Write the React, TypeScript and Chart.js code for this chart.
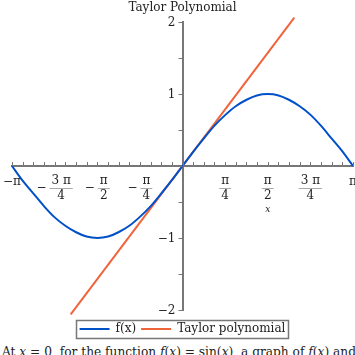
import React, { useEffect, useRef } from "react";
import { Chart, registerables } from "chart.js";
Chart.register(...registerables);

// f(x) = sin(x), read at steps of pi/16
const sineX = [-3.1416, -2.95, -2.75, -2.55, -2.36, -2.16, -1.96, -1.77, -1.57, -1.37, -1.18, -0.98, -0.79, -0.59, -0.39, -0.2, 0, 0.2, 0.39, 0.59, 0.79, 0.98, 1.18, 1.37, 1.57, 1.77, 1.96, 2.16, 2.36, 2.55, 2.75, 2.95, 3.1416];
const sineY = [0, -0.2, -0.38, -0.56, -0.71, -0.83, -0.92, -0.98, -1, -0.98, -0.92, -0.83, -0.71, -0.56, -0.38, -0.2, 0, 0.2, 0.38, 0.56, 0.71, 0.83, 0.92, 0.98, 1, 0.98, 0.92, 0.83, 0.71, 0.56, 0.38, 0.2, 0];
// Taylor polynomial (degree 1): y = x
const taylorX = [-2.06, 2.06];
const taylorY = [-2.06, 2.06];

const seriesNames = ["f(x)", "Taylor polynomial"];
const chartTitle = "Taylor Polynomial";
const xAxisLabel = "x";
// x tick labels at multiples of pi/4
const xTickQuarters = [-4, -3, -2, -1, 1, 2, 3, 4];
const xTickNeg = [true, true, true, true, false, false, false, false];
const xTickNum = ["π", "3 π", "π", "π", "π", "π", "3 π", "π"];
const xTickDen = ["", "4", "2", "4", "4", "2", "4", ""];
const yTickValues = [-2, -1, 1, 2];
const yTickLabels = ["−2", "−1", "1", "2"];

const FONT = "'DejaVu Serif', serif";
const AXIS = "#777777";

const axisDecor = {
  id: "axisDecor",
  afterDraw(chart: any) {
    const { ctx } = chart;
    const x = chart.scales.x;
    const y = chart.scales.y;
    const x0 = x.getPixelForValue(0);
    const y0 = y.getPixelForValue(0);
    ctx.save();
    // tick marks
    ctx.strokeStyle = AXIS;
    ctx.lineWidth = 1;
    x.ticks.forEach((t: any) => {
      const px = Math.round(x.getPixelForValue(t.value)) + 0.5;
      ctx.beginPath();
      ctx.moveTo(px, y0);
      ctx.lineTo(px, y0 - 4);
      ctx.stroke();
    });
    y.ticks.forEach((t: any) => {
      const py = Math.round(y.getPixelForValue(t.value)) + 0.5;
      ctx.beginPath();
      ctx.moveTo(x0, py);
      ctx.lineTo(x0 - 4, py);
      ctx.stroke();
    });
    // x labels
    ctx.fillStyle = "#222";
    ctx.font = "12px " + FONT;
    ctx.textBaseline = "middle";
    xTickQuarters.forEach((q, i) => {
      const px = x.getPixelForValue((q * Math.PI) / 4);
      const neg = xTickNeg[i];
      const num = xTickNum[i];
      const den = xTickDen[i];
      if (!den) {
        ctx.textAlign = "center";
        ctx.fillText((neg ? "−" : "") + num, px, y0 + 16);
        return;
      }
      const wm = neg ? ctx.measureText("−").width + 3 : 0;
      const fw = Math.max(ctx.measureText(num).width, ctx.measureText(den).width) + 4;
      const start = px - (wm + fw) / 2;
      const barY = y0 + 22;
      if (neg) {
        ctx.textAlign = "left";
        ctx.fillText("−", start, barY);
      }
      const fc = start + wm + fw / 2;
      ctx.textAlign = "center";
      ctx.fillText(num, fc, barY - 7);
      ctx.fillText(den, fc, barY + 8);
      ctx.strokeStyle = "#aaaaaa";
      ctx.beginPath();
      ctx.moveTo(fc - fw / 2, barY + 0.5);
      ctx.lineTo(fc + fw / 2, barY + 0.5);
      ctx.stroke();
    });
    // axis label
    ctx.font = "italic 9px " + FONT;
    ctx.textAlign = "center";
    ctx.fillText(xAxisLabel, x.getPixelForValue(Math.PI / 2), y0 + 44);
    // y labels
    ctx.font = "12px " + FONT;
    ctx.textAlign = "right";
    yTickValues.forEach((v, i) => {
      ctx.fillText(yTickLabels[i], x0 - 7, y.getPixelForValue(v) + 1);
    });
    // legend border
    const lg = chart.legend;
    if (lg && lg.legendHitBoxes && lg.legendHitBoxes.length) {
      const hb = lg.legendHitBoxes;
      const l = hb[0].left - 4;
      const r = hb[hb.length - 1].left + hb[hb.length - 1].width + 2;
      const t = hb[0].top - 3;
      ctx.strokeStyle = AXIS;
      ctx.lineWidth = 1.5;
      ctx.strokeRect(Math.round(l) + 0.5, Math.round(t) + 0.5, Math.round(r - l), 18);
    }
    ctx.restore();
  },
};

export default function App() {
  const ref = useRef<HTMLCanvasElement>(null);
  useEffect(() => {
    const chart = new Chart(ref.current!, {
      type: "scatter",
      data: {
        datasets: [
          {
            label: seriesNames[0],
            data: sineX.map((v, i) => ({ x: v, y: sineY[i] })),
            showLine: true,
            borderColor: "#0050c8",
            backgroundColor: "#0050c8",
            borderWidth: 2,
            pointRadius: 0,
            cubicInterpolationMode: "monotone",
            clip: false,
          },
          {
            label: seriesNames[1],
            data: taylorX.map((v, i) => ({ x: v, y: taylorY[i] })),
            showLine: true,
            borderColor: "#f0643c",
            backgroundColor: "#f0643c",
            borderWidth: 2,
            pointRadius: 0,
            clip: false,
          },
        ],
      } as any,
      options: {
        responsive: false,
        animation: false,
        layout: { padding: { left: 12, right: 2, top: 0, bottom: 0 } },
        scales: {
          x: {
            type: "linear",
            min: -Math.PI,
            max: Math.PI,
            position: { y: 0 } as any,
            afterBuildTicks: (s: any) => {
              const t = [];
              for (let k = -16; k <= 16; k++) t.push({ value: (k * Math.PI) / 16 });
              s.ticks = t;
            },
            ticks: { display: false },
            grid: { display: false, drawTicks: false },
            border: { display: true, color: AXIS, width: 2 },
          },
          y: {
            type: "linear",
            min: -2,
            max: 2,
            position: { x: 0 } as any,
            afterBuildTicks: (s: any) => {
              const t = [];
              for (let k = -4; k <= 4; k++) t.push({ value: k / 2 });
              s.ticks = t;
            },
            ticks: { display: false },
            grid: { display: false, drawTicks: false },
            border: { display: true, color: AXIS, width: 2 },
          },
        },
        plugins: {
          title: {
            display: true,
            text: chartTitle,
            color: "#222",
            font: { family: FONT, size: 12, weight: "normal" },
            padding: { top: 1, bottom: 6.6 },
          },
          legend: {
            display: true,
            position: "bottom",
            title: { display: true, text: "", font: { size: 5 }, padding: { top: 2, bottom: 0 } },
            labels: {
              usePointStyle: true,
              pointStyle: "line",
              pointStyleWidth: 30,
              padding: 5,
              color: "#222",
              font: { family: FONT, size: 12 },
            },
          },
          tooltip: { enabled: false },
        },
      },
      plugins: [axisDecor],
    });
    return () => chart.destroy();
  }, []);
  return (
    <div style={{ position: "absolute", left: 0, top: 0, width: 355, height: 355, overflow: "hidden", background: "#fff" }}>
      <canvas ref={ref} width={355} height={345} style={{ display: "block", width: 355, height: 345 }} />
      <div style={{ position: "absolute", left: 2, top: 345, whiteSpace: "nowrap", font: "12.2px " + FONT, color: "#222" }}>
        At <i>x</i> = 0, for the function <i>f</i>(<i>x</i>) = sin(<i>x</i>), a graph of <i>f</i>(<i>x</i>) and the Taylor polynomial
      </div>
    </div>
  );
}
